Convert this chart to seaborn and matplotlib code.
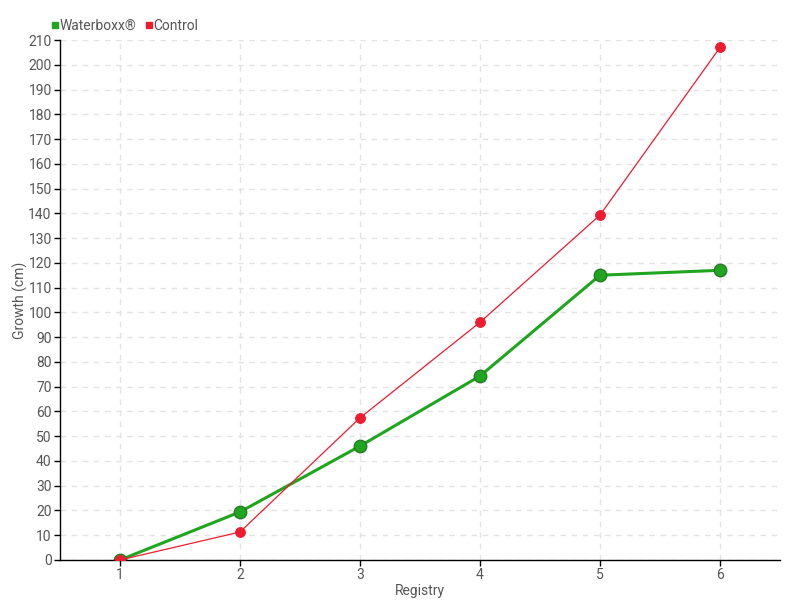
import pandas as pd
import matplotlib
matplotlib.use('Agg')
import matplotlib.pyplot as plt
import seaborn as sns
from matplotlib.lines import Line2D

registry = [1, 2, 3, 4, 5, 6]
waterboxx = [0, 19.4, 46, 74.3, 115, 117]
control = [0, 11.3, 57.4, 96, 139.3, 207]

sns.set_style('white')
plt.rcParams['font.family'] = ['Roboto', 'DejaVu Sans']

df = pd.DataFrame({
    'Registry': registry * 2,
    'Growth': waterboxx + control,
    'Series': ['Waterboxx®'] * 6 + ['Control'] * 6,
})

green = '#1fa51f'
red = '#ee1c2e'
text_col = '#555555'

fig = plt.figure(figsize=(8, 6), dpi=100)
ax = fig.add_axes([0.075, 0.0667, 0.9, 0.8666])

sns.lineplot(data=df[df.Series == 'Control'], x='Registry', y='Growth', color=red,
             linewidth=0.9, marker='o', markersize=7, markeredgecolor=red, ax=ax, zorder=3)
sns.lineplot(data=df[df.Series == 'Waterboxx®'], x='Registry', y='Growth', color=green,
             linewidth=2.2, marker='o', markersize=9, markeredgecolor='#2a7a2a',
             markeredgewidth=1, ax=ax, zorder=2)

ax.set_xlim(0.5, 6.5)
ax.set_ylim(0, 210)
ax.set_xticks(registry)
ax.set_yticks(range(0, 211, 10))
ax.grid(True, color='#e3e3e3', linestyle=(0, (4, 4)), linewidth=1)
ax.set_axisbelow(True)
for s in ['top', 'right']:
    ax.spines[s].set_visible(False)
for s in ['left', 'bottom']:
    ax.spines[s].set_color('black')
    ax.spines[s].set_linewidth(1)
ax.tick_params(axis='both', direction='out', length=4, width=1, colors='black',
               labelcolor=text_col, labelsize=10, left=True, bottom=True, pad=2)
ax.set_xlabel('Registry', color=text_col, fontsize=10, labelpad=1)
ax.set_ylabel('Growth (cm)', color=text_col, fontsize=10)
ax.yaxis.set_label_coords(-0.045, 0.5)

handles = [Line2D([], [], marker='s', linestyle='', color=green, markersize=4),
           Line2D([], [], marker='s', linestyle='', color=red, markersize=4)]
fig.legend(handles, ['Waterboxx®', 'Control'], loc='upper left',
           bbox_to_anchor=(0.045, 0.99), ncol=2, frameon=False, handletextpad=-0.2,
           handlelength=1, columnspacing=0.4, fontsize=10, labelcolor=text_col)

fig.savefig('out.png', dpi=100)
